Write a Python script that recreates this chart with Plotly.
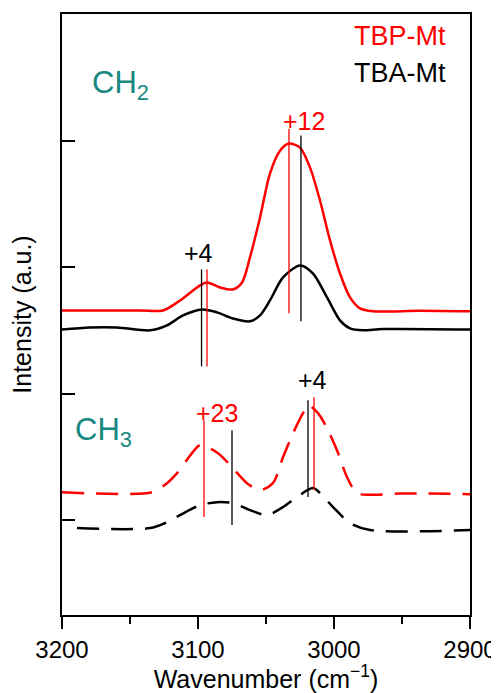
import plotly.graph_objects as go

# ---------------- data ----------------
# CH2 region, TBP-Mt (red, solid)
ch2_tbp_x = [3200, 3142.6, 3125.7, 3113.2, 3098.5, 3093.4, 3083.8, 3074.3, 3067.6, 3061.8, 3054.4, 3047.1, 3039.7, 3033.1,
             3025.0, 3017.6, 3010.3, 3002.9, 2995.6, 2988.2, 2980.9, 2971.3, 2936.8, 2900]
ch2_tbp_y = [2.657, 2.657, 2.657, 2.736, 2.855, 2.878, 2.839, 2.823, 2.878, 3.076, 3.391, 3.739, 3.920, 3.976,
             3.944, 3.786, 3.526, 3.210, 2.949, 2.760, 2.673, 2.650, 2.655, 2.650]

# CH2 region, TBA-Mt (black, solid)
ch2_tba_x = [3200, 3179.4, 3159.6, 3135.3, 3122.8, 3111.0, 3097.1, 3086.0, 3074.3, 3061.8, 3054.4, 3047.1, 3037.5, 3025.0,
             3015.4, 3005.1, 2995.6, 2988.2, 2978.7, 2964.0, 2900]
ch2_tba_y = [2.507, 2.523, 2.523, 2.500, 2.539, 2.618, 2.665, 2.642, 2.594, 2.571, 2.618, 2.736, 2.918, 3.013,
             2.949, 2.760, 2.579, 2.515, 2.500, 2.510, 2.507]

# CH3 region, TBP-Mt (red, dashed)
ch3_tbp_x = [3200, 3133.8, 3122.8, 3115.4, 3104.4, 3098.5, 3085.3, 3075.0, 3064.0, 3054.4, 3044.9, 3037.5, 3030.1,
             3022.8, 3019.1, 3011.8, 3005.1, 2997.8, 2990.4, 2983.1, 2973.5, 2951.5, 2900]
ch3_tbp_y = [1.221, 1.221, 1.292, 1.371, 1.529, 1.592, 1.529, 1.418, 1.292, 1.237, 1.292, 1.497, 1.687,
             1.845, 1.908, 1.845, 1.726, 1.552, 1.339, 1.213, 1.200, 1.210, 1.205]

# CH3 region, TBA-Mt (black, dashed)
ch3_tba_x = [3189.0, 3135.3, 3122.8, 3113.2, 3098.5, 3086.0, 3074.3, 3061.8, 3049.3, 3037.5, 3027.2, 3015.4,
             3008.8, 3000.7, 2988.2, 2973.5, 2900]
ch3_tba_y = [0.937, 0.937, 0.984, 1.040, 1.118, 1.142, 1.134, 1.079, 1.040, 1.103, 1.182, 1.253,
             1.197, 1.103, 0.976, 0.921, 0.921]

# vertical marker lines: (wavenumber, y_top, y_bottom, colour key)
marker_w = [3097.4, 3093.4, 3033.1, 3024.3, 3095.6, 3075.0, 3019.1, 3014.7]
marker_top = [2.981, 2.981, 4.094, 4.039, 1.789, 1.710, 1.947, 1.971]
marker_bot = [2.215, 2.215, 2.634, 2.571, 1.024, 0.961, 1.182, 1.237]
marker_col = ["k", "r", "r", "k", "r", "k", "k", "r"]

# shift labels
shift_text = ["+4", "+12", "+23", "+4"]
shift_w = [3100, 3022, 3086, 3016]
shift_y = [3.115, 4.157, 1.845, 2.105]
shift_col = ["k", "r", "r", "k"]

x_ticks = [3200, 3100, 3000, 2900]
x_minor = [3150, 3050, 2950]
y_ticks = [1, 2, 3, 4]

RED = "#ff0000"
BLACK = "#000000"
TEAL = "#17877f"
COL = {"r": RED, "k": BLACK}
FONT = "Liberation Sans, Arial, sans-serif"

fig = go.Figure()

fig.add_trace(go.Scatter(x=ch2_tbp_x, y=ch2_tbp_y, mode="lines", line=dict(color=RED, width=2.5, shape="spline", smoothing=0.8),
                         name="TBP-Mt", showlegend=False))
fig.add_trace(go.Scatter(x=ch2_tba_x, y=ch2_tba_y, mode="lines", line=dict(color=BLACK, width=2.5, shape="spline", smoothing=0.8),
                         name="TBA-Mt", showlegend=False))
fig.add_trace(go.Scatter(x=ch3_tbp_x, y=ch3_tbp_y, mode="lines",
                         line=dict(color=RED, width=2.5, shape="spline", smoothing=0.8, dash="22px,12px"),
                         showlegend=False))
fig.add_trace(go.Scatter(x=ch3_tba_x, y=ch3_tba_y, mode="lines",
                         line=dict(color=BLACK, width=2.5, shape="spline", smoothing=0.8, dash="22px,12px"),
                         showlegend=False))

for w, t, b, c in zip(marker_w, marker_top, marker_bot, marker_col):
    fig.add_trace(go.Scatter(x=[w, w], y=[t, b], mode="lines", line=dict(color=COL[c], width=1.3), showlegend=False,
                             hoverinfo="skip"))

annotations = []
for txt, w, y, c in zip(shift_text, shift_w, shift_y, shift_col):
    annotations.append(dict(x=w, y=y, xref="x", yref="y", text=txt, showarrow=False,
                            font=dict(family=FONT, size=25, color=COL[c]), xanchor="center", yanchor="middle"))

annotations += [
    dict(x=3179.4, y=4.44, xref="x", yref="y", text="CH<sub>2</sub>", showarrow=False,
         font=dict(family=FONT, size=31, color=TEAL), xanchor="left", yanchor="middle"),
    dict(x=3191.9, y=1.70, xref="x", yref="y", text="CH<sub>3</sub>", showarrow=False,
         font=dict(family=FONT, size=31, color=TEAL), xanchor="left", yanchor="middle"),
    dict(x=2916.2, y=4.828, xref="x", yref="y", text="TBP-Mt", showarrow=False,
         font=dict(family=FONT, size=27, color=RED), xanchor="right", yanchor="middle"),
    dict(x=2916.2, y=4.536, xref="x", yref="y", text="TBA-Mt", showarrow=False,
         font=dict(family=FONT, size=27, color=BLACK), xanchor="right", yanchor="middle"),
]

# the page body adds an 8px offset, so the figure is drawn 8px smaller
fig.update_layout(
    width=491, height=685,
    margin=dict(l=54, r=29, t=6, b=78, autoexpand=False),
    plot_bgcolor="white", paper_bgcolor="white",
    font=dict(family=FONT, color="black"),
    annotations=annotations,
    showlegend=False,
)

fig.update_xaxes(
    automargin=False,
    range=[3200, 2900], tickmode="array", tickvals=x_ticks, ticktext=[str(v) for v in x_ticks],
    ticks="outside", ticklen=12, tickwidth=2, tickcolor="black",
    minor=dict(tickmode="array", tickvals=x_minor, ticks="outside", ticklen=7, tickwidth=2, tickcolor="black"),
    showline=True, linewidth=2, linecolor="black", mirror=True,
    showgrid=False, zeroline=False,
    tickfont=dict(family=FONT, size=24, color="black"),
    title=dict(text="Wavenumber (cm<sup>−1</sup>)", font=dict(family=FONT, size=25, color="black"), standoff=5),
)
fig.update_yaxes(
    automargin=False,
    range=[0.25, 5], tickmode="array", tickvals=y_ticks,
    ticks="inside", ticklen=13, tickwidth=2, tickcolor="black",
    showticklabels=False,
    showline=True, linewidth=2, linecolor="black", mirror=True,
    showgrid=False, zeroline=False,
    title=dict(text="Intensity (a.u.)", font=dict(family=FONT, size=25, color="black"), standoff=30),
)

fig.write_html("out.html")
